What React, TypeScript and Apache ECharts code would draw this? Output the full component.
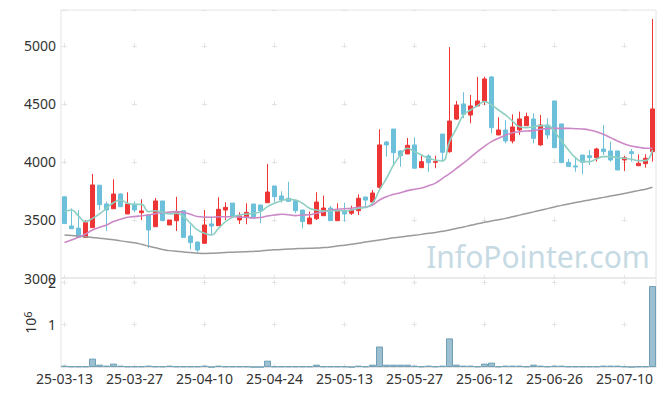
import React, { useEffect, useRef } from "react";
import * as echarts from "echarts";

const dates = ['25-03-13','25-03-14','25-03-17','25-03-18','25-03-19','25-03-20','25-03-21','25-03-24','25-03-25','25-03-26','25-03-27','25-03-28','25-03-31','25-04-01','25-04-02','25-04-03','25-04-04','25-04-07','25-04-08','25-04-09','25-04-10','25-04-11','25-04-14','25-04-15','25-04-16','25-04-17','25-04-18','25-04-21','25-04-22','25-04-23','25-04-24','25-04-25','25-04-28','25-04-29','25-04-30','25-05-02','25-05-07','25-05-08','25-05-09','25-05-12','25-05-13','25-05-14','25-05-15','25-05-16','25-05-19','25-05-20','25-05-21','25-05-22','25-05-23','25-05-26','25-05-27','25-05-28','25-05-29','25-05-30','25-06-02','25-06-04','25-06-05','25-06-09','25-06-10','25-06-11','25-06-12','25-06-13','25-06-16','25-06-17','25-06-18','25-06-19','25-06-20','25-06-23','25-06-24','25-06-25','25-06-26','25-06-27','25-06-30','25-07-01','25-07-02','25-07-03','25-07-04','25-07-07','25-07-08','25-07-09','25-07-10','25-07-11','25-07-14','25-07-15','25-07-16'];

const opens = [3700,3448,3430,3350,3434,3800,3638,3597,3724,3552,3635,3563,3545,3442,3664,3457,3494,3580,3362,3310,3299,3466,3451,3586,3646,3500,3528,3638,3629,3649,3793,3707,3687,3666,3586,3466,3511,3537,3603,3494,3578,3558,3580,3698,3655,3782,4172,4284,4095,4069,4147,3951,4052,3997,4241,4089,4370,4500,4405,4483,4520,4733,4233,4276,4181,4276,4313,4371,4147,4319,4526,4328,3997,3966,4060,4054,4037,4112,4095,4095,4017,4089,3968,3986,4089];
const closes = [3470,3425,3350,3477,3802,3632,3586,3724,3615,3638,3586,3578,3414,3664,3494,3500,3571,3350,3305,3241,3457,3448,3592,3609,3534,3534,3566,3528,3580,3741,3701,3672,3661,3580,3486,3517,3655,3603,3494,3578,3552,3586,3687,3672,3733,4147,4147,4080,4054,4144,3946,4003,3994,4003,4084,4353,4491,4411,4483,4526,4716,4296,4276,4181,4302,4371,4391,4204,4319,4233,4123,3994,3960,3957,3997,4037,4112,4089,4017,3931,4037,4072,3989,4032,4457];
const lows = [3470,3425,3350,3350,3434,3586,3405,3597,3610,3552,3566,3500,3256,3442,3490,3457,3405,3350,3247,3220,3299,3371,3451,3500,3534,3466,3463,3509,3471,3649,3653,3649,3661,3558,3428,3466,3500,3537,3494,3494,3486,3543,3543,3601,3655,3770,4046,3974,3959,4069,3946,3951,3916,3946,4003,4080,4362,4377,4334,4483,4491,4247,4230,4161,4161,4233,4313,4161,4140,4198,4123,3994,3960,3916,3894,3974,4003,4060,4003,3931,3922,4003,3968,3951,4003];
const highs = [3700,3600,3585,3500,3897,3800,3658,3851,3730,3739,3661,3678,3545,3690,3664,3500,3700,3580,3457,3315,3586,3528,3696,3653,3646,3566,3644,3638,3629,3983,3793,3747,3830,3666,3586,3572,3739,3710,3621,3644,3649,3623,3721,3700,3759,4282,4180,4284,4100,4207,4213,4054,4066,4054,4241,4990,4526,4601,4578,4733,4736,4740,4385,4361,4410,4434,4425,4420,4405,4377,4526,4328,4026,4032,4060,4103,4123,4319,4175,4095,4054,4112,4066,4066,5233];

const ma5 = [3572,3586,3534,3486,3514,3552,3601,3649,3672,3644,3635,3635,3572,3580,3566,3552,3558,3528,3471,3414,3385,3371,3428,3486,3523,3543,3552,3558,3572,3615,3644,3666,3678,3672,3644,3601,3586,3578,3578,3580,3578,3586,3601,3609,3644,3759,3859,3974,4060,4118,4089,4060,4032,4017,4009,4175,4290,4405,4448,4485,4520,4491,4448,4405,4353,4304,4296,4304,4313,4313,4261,4181,4103,4037,4003,4003,4026,4046,4046,4037,4032,4023,4012,4012,4103];
const ma20 = [3305,3328,3351,3379,3414,3437,3457,3486,3506,3523,3530,3536,3543,3555,3563,3568,3572,3565,3549,3530,3525,3524,3528,3528,3528,3525,3523,3518,3522,3534,3543,3549,3545,3538,3543,3545,3558,3572,3586,3592,3597,3601,3609,3611,3629,3672,3701,3721,3735,3753,3765,3775,3796,3818,3859,3900,3945,3990,4040,4090,4135,4175,4205,4230,4252,4261,4267,4270,4282,4288,4290,4290,4290,4287,4284,4276,4261,4239,4210,4181,4155,4138,4127,4118,4118];
const ma60 = [3370,3367,3362,3356,3350,3343,3337,3330,3320,3312,3303,3290,3275,3260,3245,3236,3230,3225,3219,3214,3212,3213,3216,3220,3222,3225,3227,3229,3233,3240,3243,3246,3249,3252,3255,3257,3258,3262,3268,3276,3283,3291,3300,3310,3318,3327,3337,3346,3354,3361,3368,3376,3385,3393,3403,3414,3427,3440,3454,3467,3480,3492,3503,3514,3528,3542,3556,3570,3584,3598,3612,3626,3638,3650,3662,3673,3684,3695,3706,3717,3729,3741,3753,3765,3782];

const volumes = [32000,15000,15000,15000,198000,55000,32000,80000,32000,15000,15000,15000,32000,15000,15000,32000,15000,15000,15000,15000,32000,0,32000,15000,15000,15000,15000,0,0,150000,15000,15000,15000,15000,15000,15000,55000,15000,15000,15000,15000,0,32000,15000,55000,484000,55000,55000,55000,55000,32000,15000,32000,15000,32000,675000,55000,32000,32000,15000,80000,103000,15000,32000,32000,32000,15000,55000,32000,15000,32000,32000,15000,15000,15000,15000,15000,32000,32000,32000,15000,0,15000,15000,1910000];

const priceTicks = { min: 3000, max: 5310, interval: 500 };
const volTicks = { min: 0, max: 2100000, interval: 1000000 };

const FONT = '"Noto Sans", "DejaVu Sans", sans-serif';
const GRIDLINE = '#e4e4e4';

export default function App() {
  const ref = useRef<HTMLDivElement>(null);
  useEffect(() => {
    if (!ref.current) return;
    const chart = echarts.init(ref.current, null, { renderer: "svg" });
    const candleData = opens.map((o, i) => [o, closes[i], lows[i], highs[i]]);
    const option: any = {
      animation: false,
      backgroundColor: '#ffffff',
      textStyle: { fontFamily: FONT },
      grid: [
        { left: 61, top: 10, width: 595, height: 268, show: true, borderColor: GRIDLINE, borderWidth: 1 },
        { left: 61, top: 278, width: 595, height: 89, show: true, borderColor: GRIDLINE, borderWidth: 1 },
      ],
      graphic: [
        {
          type: 'text',
          z: 0,
          x: 538,
          y: 256,
          style: {
            text: 'InfoPointer.com',
            fill: '#c6dae4',
            fontSize: 30,
            fontFamily: FONT,
            align: 'center',
            verticalAlign: 'middle',
          },
        },
      ],
      xAxis: [
        {
          type: 'category',
          gridIndex: 0,
          data: dates,
          boundaryGap: true,
          axisLine: { show: false },
          axisTick: { show: false },
          axisLabel: { show: false },
          splitLine: {
            show: true,
            interval: 9,
            alignWithLabel: true,
            lineStyle: { color: GRIDLINE, width: 1, type: [5, 53], dashOffset: 24.5 },
          },
        },
        {
          type: 'category',
          gridIndex: 1,
          data: dates,
          boundaryGap: true,
          axisLine: { show: true, lineStyle: { color: GRIDLINE } },
          axisTick: { show: false },
          axisLabel: { interval: 9, color: '#333', fontSize: 14, margin: 4, fontFamily: FONT },
          splitLine: {
            show: true,
            interval: 9,
            alignWithLabel: true,
            lineStyle: { color: GRIDLINE, width: 1, type: [5, 37], dashOffset: 39.5 },
          },
        },
      ],
      yAxis: [
        {
          type: 'value',
          gridIndex: 0,
          min: priceTicks.min,
          max: priceTicks.max,
          interval: priceTicks.interval,
          axisLine: { show: false },
          axisTick: { show: false },
          axisLabel: {
            color: '#333', fontSize: 14, margin: 5, showMaxLabel: false, fontFamily: FONT,
            formatter: (v: number) => String(v),
          },
          splitLine: {
            show: true,
            lineStyle: { color: GRIDLINE, width: 1, type: [5, 65], dashOffset: 69 },
          },
        },
        {
          type: 'value',
          gridIndex: 1,
          min: volTicks.min,
          max: volTicks.max,
          interval: volTicks.interval,
          axisLine: { show: false },
          axisTick: { show: false },
          axisLabel: {
            color: '#333', fontSize: 14, margin: 5, showMinLabel: false, showMaxLabel: false, fontFamily: FONT,
            formatter: (v: number) => String(v / 1000000),
          },
          name: '10{s|6}',
          nameLocation: 'middle',
          nameRotate: 90,
          nameGap: 20,
          nameTextStyle: {
            color: '#333', fontSize: 14, fontFamily: FONT,
            rich: { s: { fontSize: 11, verticalAlign: 'top', color: '#333', fontFamily: FONT, padding: [0, 0, 6, 0] } },
          },
          splitLine: {
            show: true,
            lineStyle: { color: GRIDLINE, width: 1, type: [5, 65], dashOffset: 69 },
          },
        },
      ],
      series: [
        {
          type: 'candlestick',
          xAxisIndex: 0,
          yAxisIndex: 0,
          data: candleData,
          barWidth: 5,
          itemStyle: {
            color: '#ee3536',
            color0: '#6cc0da',
            borderColor: '#ee3536',
            borderColor0: '#6cc0da',
            borderWidth: 1,
          },
        },
        {
          type: 'line', xAxisIndex: 0, yAxisIndex: 0, data: ma60, showSymbol: false, smooth: true,
          lineStyle: { color: '#9a9a9a', width: 1.5 },
        },
        {
          type: 'line', xAxisIndex: 0, yAxisIndex: 0, data: ma20, showSymbol: false, smooth: true,
          lineStyle: { color: '#cc88c6', width: 1.6 },
        },
        {
          type: 'line', xAxisIndex: 0, yAxisIndex: 0, data: ma5, showSymbol: false, smooth: true,
          lineStyle: { color: '#8ecfc1', width: 1.6 },
        },
        {
          type: 'bar',
          xAxisIndex: 1,
          yAxisIndex: 1,
          data: volumes,
          barWidth: '100%',
          itemStyle: { color: '#9dc0d1', borderColor: '#6f9fb6', borderWidth: 1 },
        },
      ],
    };
    chart.setOption(option);
    return () => chart.dispose();
  }, []);
  return <div ref={ref} style={{ position: 'absolute', left: 0, top: 0, width: 665, height: 396 }} />;
}
